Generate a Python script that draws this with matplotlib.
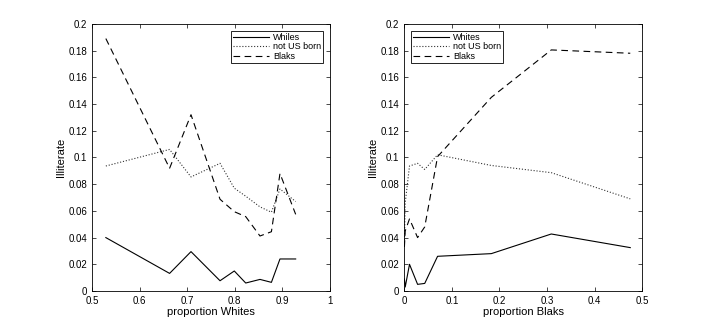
import matplotlib
matplotlib.use("Agg")
import matplotlib.pyplot as plt
import numpy as np

plt.rcParams['font.family'] = ['Liberation Sans', 'DejaVu Sans']

# left panel: proportion Whites
prop_whites = [0.529, 0.663, 0.708, 0.769, 0.799, 0.823, 0.853, 0.877, 0.895, 0.928]
whites_l = [0.040, 0.0132, 0.0295, 0.0077, 0.015, 0.006, 0.0087, 0.0065, 0.024, 0.024]
notus_l = [0.0936, 0.106, 0.0854, 0.0956, 0.077, 0.071, 0.063, 0.059, 0.0764, 0.067]
blaks_l = [0.189, 0.0919, 0.132, 0.0687, 0.0594, 0.0557, 0.0412, 0.0444, 0.088, 0.0574]

# right panel: proportion Blaks
prop_blaks = [0.0003, 0.002, 0.011, 0.028, 0.043, 0.070, 0.183, 0.309, 0.475]
whites_r = [0.009, 0.003, 0.020, 0.005, 0.0057, 0.026, 0.028, 0.0427, 0.0325]
notus_r = [0.036, 0.066, 0.0936, 0.0956, 0.091, 0.102, 0.094, 0.0886, 0.069]
blaks_r = [0.033, 0.045, 0.054, 0.040, 0.048, 0.1006, 0.145, 0.1805, 0.178]

yticks = np.arange(0, 0.201, 0.02)
ylabels = ["0"] + [f"{v:.2f}".rstrip("0") for v in yticks[1:]]

fig = plt.figure(figsize=(7.08, 3.27), dpi=100)
ax1 = fig.add_axes([0.130, 0.110, 0.336, 0.817])
ax2 = fig.add_axes([0.571, 0.110, 0.336, 0.817])


def style(ax, x, w, n, b, wlabel, xlabel, xlim, xticks, xlabels, loc):
    ax.plot(x, w, '-', color='black', lw=0.8, label=wlabel)
    ax.plot(x, n, ':', color='#333333', lw=0.8, label='not US born')
    ax.plot(x, b, '--', color='black', lw=0.8, dashes=(6, 4), label='Blaks')
    ax.set_xlim(*xlim)
    ax.set_ylim(0, 0.2)
    ax.set_xticks(xticks)
    ax.set_xticklabels(xlabels)
    ax.set_yticks(yticks)
    ax.set_yticklabels(ylabels)
    ax.tick_params(direction='in', top=True, right=True, labelsize=7, length=3, width=0.5)
    for s in ax.spines.values():
        s.set_linewidth(0.6)
    ax.set_xlabel(xlabel, fontsize=8, labelpad=1)
    ax.set_ylabel('Illiterate', fontsize=8, labelpad=2)
    leg = ax.legend(loc=loc, fontsize=6.5, fancybox=False, edgecolor='black',
                    framealpha=1, handlelength=4, borderpad=0.2, labelspacing=0.05,
                    handletextpad=0.4, borderaxespad=0.8)
    leg.get_frame().set_linewidth(0.6)


style(ax1, prop_whites, whites_l, notus_l, blaks_l, 'Whiles', 'proportion Whites',
      (0.5, 1), np.arange(0.5, 1.01, 0.1), ["0.5", "0.6", "0.7", "0.8", "0.9", "1"], 'upper right')
style(ax2, prop_blaks, whites_r, notus_r, blaks_r, 'Whites', 'proportion Blaks',
      (0, 0.5), np.arange(0, 0.51, 0.1), ["0", "0.1", "0.2", "0.3", "0.4", "0.5"], 'upper left')

fig.savefig("out.png", dpi=100)
